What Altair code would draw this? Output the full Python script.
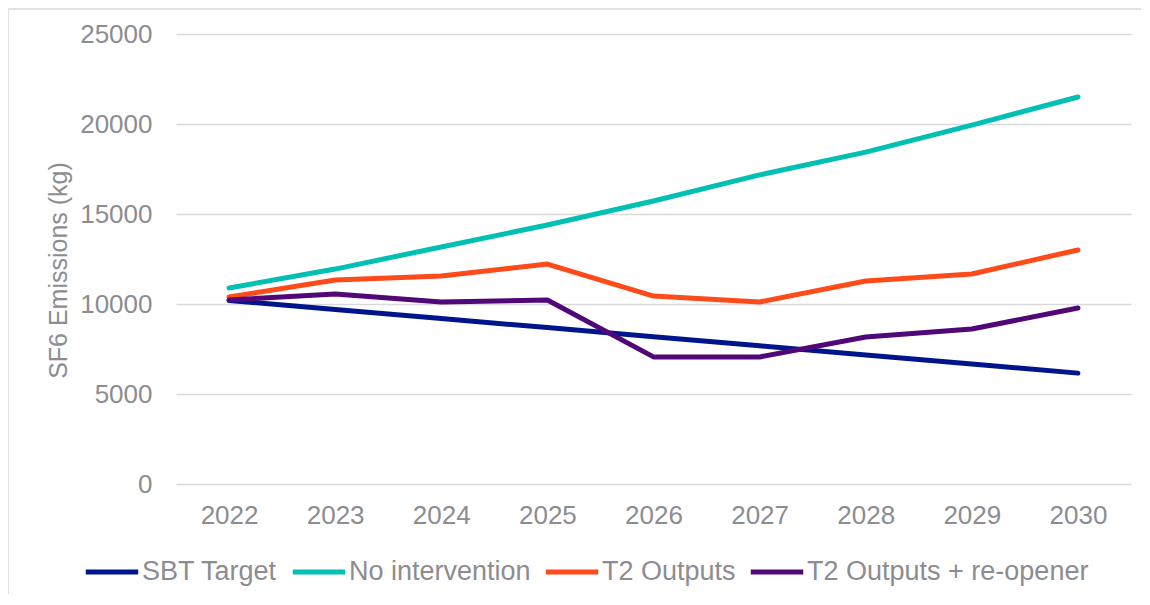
import altair as alt
import pandas as pd

years = [2022, 2023, 2024, 2025, 2026, 2027, 2028, 2029, 2030]
series_names = ["SBT Target", "No intervention", "T2 Outputs", "T2 Outputs + re-opener"]
sbt_target = [10200, 9700, 9190, 8690, 8180, 7680, 7170, 6670, 6160]
no_intervention = [10890, 11940, 13170, 14390, 15720, 17170, 18440, 19940, 21500]
t2_outputs = [10390, 11330, 11560, 12220, 10440, 10110, 11280, 11670, 13000]
t2_reopener = [10220, 10560, 10110, 10220, 7060, 7060, 8170, 8610, 9780]
colors = ["#00148C", "#00BFB3", "#FF4A1A", "#500778"]
y_ticks = [0, 5000, 10000, 15000, 20000, 25000]

rows = []
for name, vals in zip(series_names, [sbt_target, no_intervention, t2_outputs, t2_reopener]):
    for yr, v in zip(years, vals):
        rows.append({"Year": yr, "Series": name, "Value": v})
df = pd.DataFrame(rows)

FONT = "Liberation Sans"
GRAY = "#8c8c91"

border = alt.Chart(pd.DataFrame({"a": [0]})).mark_rect(
    fill=None, stroke="#d9d9d9", strokeWidth=1.5
).encode(
    x=alt.value(-168), x2=alt.value(1300), y=alt.value(-25), y2=alt.value(900)
)

lines = alt.Chart(df).mark_line(strokeWidth=5, strokeCap="round", strokeJoin="round").encode(
    x=alt.X("Year:Q",
            scale=alt.Scale(domain=[2021.5, 2030.5], nice=False, zero=False),
            axis=alt.Axis(values=years, format="d", grid=False, domain=False, ticks=False,
                          labelFontSize=26, labelColor=GRAY, labelFont=FONT,
                          labelPadding=18, title=None)),
    y=alt.Y("Value:Q",
            scale=alt.Scale(domain=[0, 25000], nice=False),
            axis=alt.Axis(values=y_ticks, format="d", grid=True, gridColor="#d9d9d9", gridWidth=1.5,
                          domain=False, ticks=False, labelFontSize=26, labelColor=GRAY,
                          labelFont=FONT, labelPadding=24,
                          title="SF6 Emissions (kg)", titleFontSize=25, titleColor=GRAY,
                          titleFont=FONT, titleFontWeight="normal",
                          titleX=-118, titleY=236, titleAngle=270,
                          titleAlign="center", titleBaseline="middle")),
    color=alt.Color("Series:N",
                    scale=alt.Scale(domain=series_names, range=colors),
                    sort=series_names,
                    legend=alt.Legend(orient="none", legendX=-93, legendY=509,
                                      direction="horizontal", title=None,
                                      symbolType="stroke", symbolSize=2750,
                                      symbolStrokeWidth=5, labelFontSize=27,
                                      labelFont=FONT, labelColor=GRAY,
                                      labelOffset=1, columnPadding=4,
                                      labelLimit=400)),
)

chart = alt.layer(border, lines).properties(
    width=955, height=450,
    autosize=alt.AutoSizeParams(type="none"),
    padding={"left": 168, "top": 26, "right": 10, "bottom": 110},
).configure_view(stroke=None)

chart.save("out.html", embed_options={"renderer": "svg", "actions": False})
